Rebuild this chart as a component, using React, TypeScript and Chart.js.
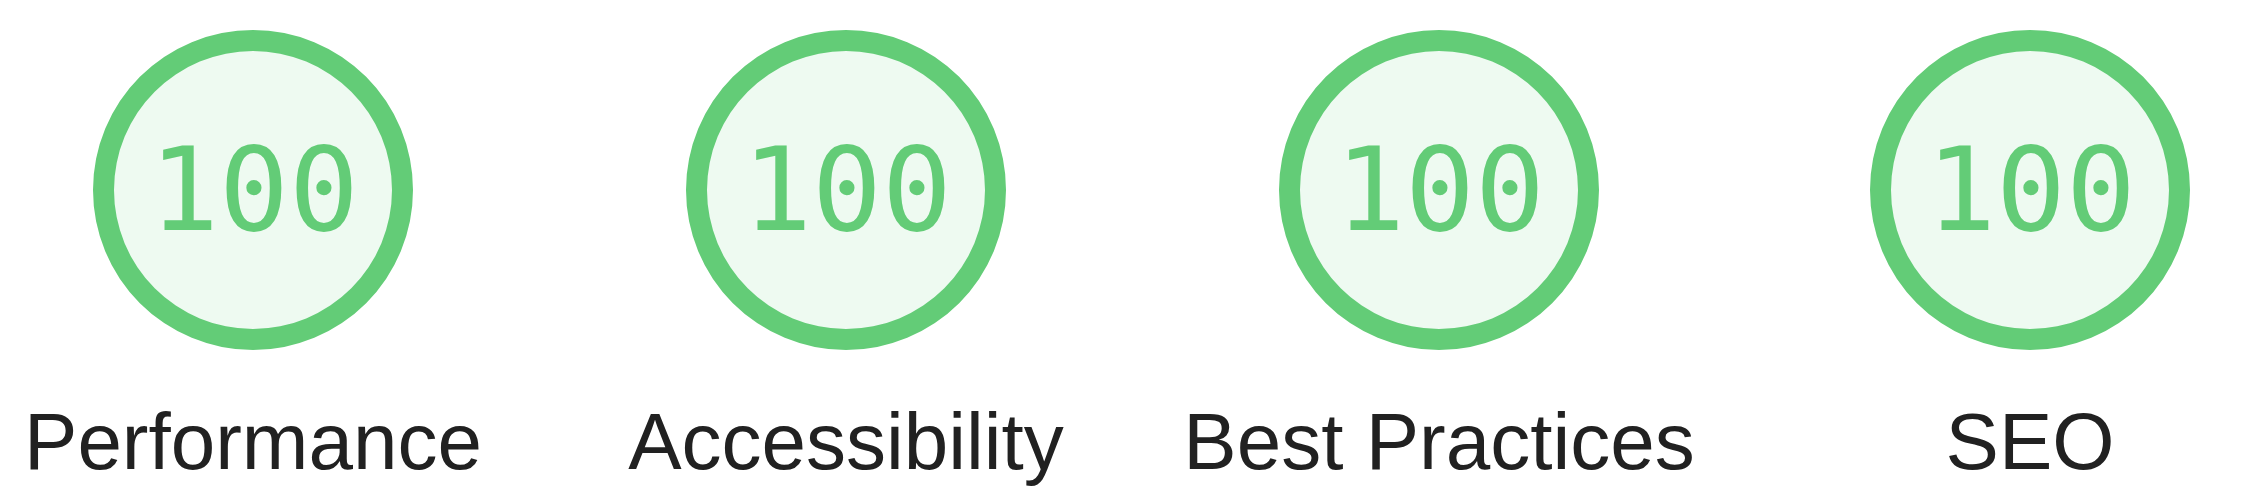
import React, { useEffect, useRef } from "react";
import { Chart, registerables } from "chart.js";

Chart.register(...registerables);

// ---- data ----
const categories: string[] = ["Performance", "Accessibility", "Best Practices", "SEO"];
const scores: number[] = [100, 100, 100, 100];
const maxScore = 100;

// ---- style / layout ----
const W = 2268;
const H = 492;
const centersX = [253, 846, 1439, 2030];
const cellW = 592;
const ringColor = "#63cc77";
const fillColor = "#eefaf1";
const labelColor = "#212121";
const outerR = 160;
const innerR = 139;
const scoreFont = '116px "DejaVu Sans Mono", monospace';

const gaugePlugin = {
  id: "gaugeDecor",
  beforeDatasetsDraw(chart: any) {
    const meta = chart.getDatasetMeta(0);
    const arc = meta.data[0];
    if (!arc) return;
    const { x, y, innerRadius } = arc.getProps(["x", "y", "innerRadius"], true);
    const ctx = chart.ctx;
    ctx.save();
    ctx.beginPath();
    ctx.arc(x, y, innerRadius + 1, 0, Math.PI * 2);
    ctx.fillStyle = fillColor;
    ctx.fill();
    ctx.restore();
  },
  afterDatasetsDraw(chart: any) {
    const meta = chart.getDatasetMeta(0);
    const arc = meta.data[0];
    if (!arc) return;
    const { x, y } = arc.getProps(["x", "y"], true);
    const ctx = chart.ctx;
    const score = chart.data.datasets[0].data[0];
    ctx.save();
    ctx.font = scoreFont;
    ctx.fillStyle = ringColor;
    ctx.textAlign = "center";
    ctx.textBaseline = "middle";
    ctx.fillText(String(score), x + 1, y + 10);
    ctx.restore();
  },
};

function Gauge({ label, score, left }: { label: string; score: number; left: number }) {
  const ref = useRef<HTMLCanvasElement | null>(null);
  useEffect(() => {
    if (!ref.current) return;
    const chart = new Chart(ref.current, {
      type: "doughnut",
      data: {
        labels: [label, ""],
        datasets: [
          {
            data: [score, maxScore - score],
            backgroundColor: [ringColor, "rgba(0,0,0,0)"],
            borderWidth: 0,
            radius: outerR,
            cutout: `${(innerR / outerR) * 100}%`,
          } as any,
        ],
      },
      options: {
        animation: false,
        responsive: true,
        maintainAspectRatio: false,
        layout: { padding: 0 },
        events: [],
        plugins: {
          legend: { display: false },
          tooltip: { enabled: false },
          title: {
            display: true,
            text: label,
            position: "bottom",
            color: labelColor,
            font: { family: '"Liberation Sans", Arial, Helvetica, sans-serif', size: 80, weight: "normal", lineHeight: 1 },
            padding: { top: 27, bottom: 5 },
          },
        },
      },
      plugins: [gaugePlugin],
    });
    return () => chart.destroy();
  }, [label, score]);
  return (
    <div style={{ position: "absolute", left, top: 0, width: cellW, height: H }}>
      <canvas ref={ref} />
    </div>
  );
}

export default function App() {
  return (
    <div
      style={{
        position: "fixed",
        left: 0,
        top: 0,
        width: W,
        height: H,
        background: "#ffffff",
        overflow: "hidden",
      }}
    >
      {categories.map((c, i) => (
        <Gauge key={c} label={c} score={scores[i]} left={centersX[i] - cellW / 2} />
      ))}
    </div>
  );
}
